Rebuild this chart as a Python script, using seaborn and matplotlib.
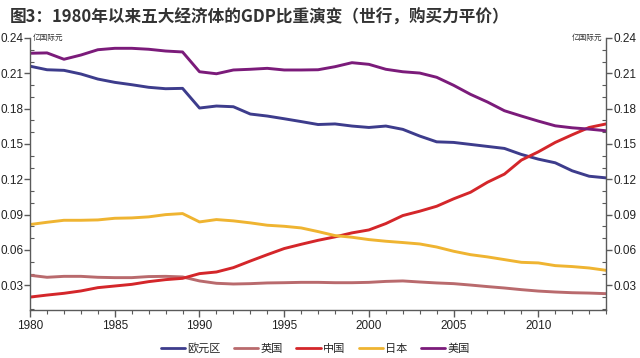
import numpy as np
import pandas as pd
import matplotlib
matplotlib.use("Agg")
import matplotlib.pyplot as plt
import seaborn as sns
from matplotlib.ticker import MultipleLocator, FormatStrFormatter

years = list(range(1980, 2015))

euro = [0.216, 0.213, 0.2125, 0.2094, 0.2051, 0.2023, 0.2003, 0.1981, 0.1969, 0.1972,
        0.1805, 0.1822, 0.1816, 0.1754, 0.1737, 0.1714, 0.1690, 0.1665, 0.1670, 0.1652,
        0.1640, 0.1652, 0.1624, 0.1567, 0.1518, 0.1513, 0.1496, 0.1479, 0.1462, 0.1411,
        0.1371, 0.1340, 0.1272, 0.1226, 0.1212]
uk = [0.0385, 0.0368, 0.0376, 0.0376, 0.0368, 0.0365, 0.0365, 0.0374, 0.0376, 0.0371,
      0.0337, 0.0317, 0.0311, 0.0314, 0.0320, 0.0322, 0.0325, 0.0325, 0.0322, 0.0322,
      0.0325, 0.0333, 0.0337, 0.0328, 0.0320, 0.0314, 0.0302, 0.0289, 0.0277, 0.0263,
      0.0251, 0.0243, 0.0237, 0.0234, 0.0229]
china = [0.0200, 0.0217, 0.0232, 0.0252, 0.0280, 0.0294, 0.0308, 0.0331, 0.0348, 0.0359,
         0.0399, 0.0413, 0.0450, 0.0506, 0.0560, 0.0612, 0.0648, 0.0682, 0.0711, 0.0745,
         0.0770, 0.0824, 0.0892, 0.0929, 0.0971, 0.1034, 0.1090, 0.1175, 0.1244, 0.1363,
         0.1433, 0.1513, 0.1578, 0.1640, 0.1670]
japan = [0.0816, 0.0835, 0.0852, 0.0852, 0.0855, 0.0869, 0.0872, 0.0881, 0.0900, 0.0909,
         0.0838, 0.0858, 0.0847, 0.0830, 0.0810, 0.0801, 0.0787, 0.0756, 0.0722, 0.0708,
         0.0688, 0.0674, 0.0663, 0.0651, 0.0625, 0.0589, 0.0560, 0.0541, 0.0518, 0.0495,
         0.0490, 0.0467, 0.0459, 0.0447, 0.0427]
usa = [0.2270, 0.2273, 0.2219, 0.2255, 0.2300, 0.2312, 0.2312, 0.2304, 0.2289, 0.2281,
       0.2113, 0.2096, 0.2128, 0.2134, 0.2142, 0.2128, 0.2128, 0.2130, 0.2156, 0.2190,
       0.2176, 0.2134, 0.2113, 0.2102, 0.2066, 0.1998, 0.1921, 0.1856, 0.1782, 0.1737,
       0.1694, 0.1654, 0.1637, 0.1626, 0.1612]

names = ["欧元区", "英国", "中国", "日本", "美国"]
colors = ["#3d3c8c", "#b96a6d", "#d4262a", "#efb431", "#7b1b7a"]

df = pd.DataFrame({"year": years * 5,
                   "value": euro + uk + china + japan + usa,
                   "region": sum([[n] * len(years) for n in names], [])})

sns.set_theme(style="white")
plt.rcParams["font.family"] = ["Noto Sans CJK SC", "DejaVu Sans"]

fig = plt.figure(figsize=(6.4, 3.58), dpi=100)
ax = fig.add_axes([0.047, 0.134, 0.9, 0.76])

sns.lineplot(data=df, x="year", y="value", hue="region", hue_order=names,
             palette=colors, linewidth=2.1, ax=ax)

ax.set_xlim(1980, 2014)
ax.set_ylim(0.009, 0.24)
ax.set_xlabel("")
ax.set_ylabel("")

spine_c = "#5a5a5a"
for s in ["left", "right", "bottom"]:
    ax.spines[s].set_color(spine_c)
    ax.spines[s].set_linewidth(1.0)
ax.spines["top"].set_visible(False)

ax.xaxis.set_major_locator(MultipleLocator(5))
ax.xaxis.set_minor_locator(MultipleLocator(1))
ax.yaxis.set_major_locator(MultipleLocator(0.03))
ax.yaxis.set_minor_locator(MultipleLocator(0.01))
ax.yaxis.set_major_formatter(FormatStrFormatter("%.2f"))

ax.tick_params(axis="x", which="major", direction="out", length=5, width=1,
               color=spine_c, labelsize=8.5, labelcolor="#222222", pad=2, bottom=True)
ax.tick_params(axis="x", which="minor", direction="out", length=3, width=0.8,
               color=spine_c, bottom=True)
ax.tick_params(axis="y", which="major", direction="out", length=4, width=1,
               color=spine_c, labelsize=8.5, labelcolor="#222222", pad=1,
               left=True, right=True, labelleft=True, labelright=True)
ax.tick_params(axis="y", which="minor", direction="in", length=3, width=0.8,
               color=spine_c, left=True, right=True)
for lab in ax.get_xticklabels() + ax.get_yticklabels():
    lab.set_family(["Liberation Sans", "DejaVu Sans"])

ax.text(0.004, 1.0, "亿国际元", transform=ax.transAxes, fontsize=5.5,
        color="#333333", ha="left", va="center")
ax.text(0.993, 1.0, "亿国际元", transform=ax.transAxes, fontsize=5.5,
        color="#333333", ha="right", va="center")

fig.text(0.015, 0.952, "图3：1980年以来五大经济体的GDP比重演变（世行，购买力平价）",
         fontsize=12, fontweight="bold", color="#333333", ha="left", va="center")

leg = ax.legend(loc="upper center", bbox_to_anchor=(0.495, -0.085), ncol=5,
                frameon=False, fontsize=8, handlelength=2.2, handletextpad=0.2,
                columnspacing=1.2)
for line in leg.get_lines():
    line.set_linewidth(2)

fig.savefig("out.png", dpi=100)
